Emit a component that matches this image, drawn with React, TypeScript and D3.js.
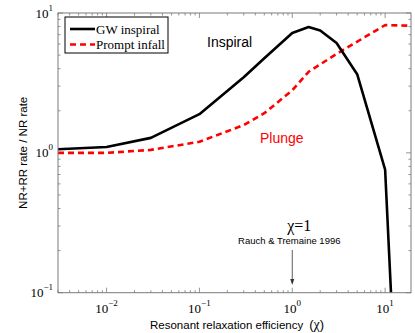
import React from "react";
import * as d3 from "d3";

// values
const chiGW = [0.003, 0.01, 0.03, 0.1, 0.3, 0.5, 1, 1.5, 2, 3, 5, 10, 12];
const rateGW = [1.06, 1.1, 1.28, 1.89, 3.47, 4.75, 7.2, 7.95, 7.5, 6.1, 3.65, 0.76, 0.06];
const chiPlunge = [0.003, 0.01, 0.03, 0.1, 0.3, 0.5, 1, 1.5, 3, 10, 20];
const ratePlunge = [1.0, 1.0, 1.05, 1.2, 1.58, 1.92, 2.8, 3.8, 5.1, 8.2, 8.1];
const xDecades = [-2, -1, 0, 1];
const yDecades = [-1, 0, 1];

const W = 415;
const H = 333;
const m = { left: 58, right: 411, top: 13, bottom: 292.7 };

const serif = "'Liberation Serif', 'Times New Roman', serif";
const sans = "'Liberation Sans', Arial, Helvetica, sans-serif";
const frame = "#7a7a7a";

const expLabel = (p: number) => (p < 0 ? "\u2212" + Math.abs(p) : String(p));

export default function App() {
  const x = d3.scaleLog().domain([0.003, 19]).range([m.left, m.right]);
  const y = d3.scaleLog().domain([0.1, 10]).range([m.bottom, m.top]);

  const line = d3
    .line<[number, number]>()
    .x((d) => x(d[0]))
    .y((d) => y(d[1]));

  const gw = line(chiGW.map((c, i) => [c, rateGW[i]] as [number, number])) || "";
  const plunge = line(chiPlunge.map((c, i) => [c, ratePlunge[i]] as [number, number])) || "";

  const xTicks = x.ticks();
  const yTicks = y.ticks();
  const isMajor = (v: number) => Math.abs(Math.log10(v) - Math.round(Math.log10(v))) < 1e-6;

  const arrowX = x(1);

  return (
    <svg width={W} height={H} style={{ position: "absolute", left: 0, top: 0, background: "#fff" }}>
      <defs>
        <clipPath id="plot">
          <rect x={m.left} y={m.top} width={m.right - m.left} height={m.bottom - m.top} />
        </clipPath>
      </defs>

      {/* ticks, inward on all four sides */}
      <g stroke={frame} strokeWidth={0.8}>
        {xTicks.map((t, i) => {
          const len = isMajor(t) ? 5 : 2.5;
          return (
            <g key={"x" + i}>
              <line x1={x(t)} x2={x(t)} y1={m.bottom} y2={m.bottom - len} />
              <line x1={x(t)} x2={x(t)} y1={m.top} y2={m.top + len} />
            </g>
          );
        })}
        {yTicks.map((t, i) => {
          const len = isMajor(t) ? 5 : 2.5;
          return (
            <g key={"y" + i}>
              <line x1={m.left} x2={m.left + len} y1={y(t)} y2={y(t)} />
              <line x1={m.right} x2={m.right - len} y1={y(t)} y2={y(t)} />
            </g>
          );
        })}
      </g>

      {/* data */}
      <g clipPath="url(#plot)" fill="none" strokeLinejoin="round">
        <path d={plunge} stroke="#ff0000" strokeWidth={2.6} strokeDasharray="6,4" />
        <path d={gw} stroke="#000" strokeWidth={2.6} />
      </g>

      <rect
        x={m.left}
        y={m.top}
        width={m.right - m.left}
        height={m.bottom - m.top}
        fill="none"
        stroke={frame}
        strokeWidth={1}
      />

      {/* tick labels */}
      <g fontFamily={serif} fill="#000">
        {xDecades.map((p) => (
          <text key={"xl" + p} x={x(Math.pow(10, p))} y={313} fontSize={13} textAnchor="middle">
            10
            <tspan dy={-7} fontSize={9}>
              {expLabel(p)}
            </tspan>
          </text>
        ))}
        {yDecades.map((p) => (
          <text key={"yl" + p} x={53} y={y(Math.pow(10, p)) + 4.5} fontSize={13} textAnchor="end">
            10
            <tspan dy={-7} fontSize={9}>
              {expLabel(p)}
            </tspan>
          </text>
        ))}
      </g>

      {/* axis titles */}
      <text x={150} y={329} fontFamily={sans} fontSize={11.5} fill="#000">
        Resonant relaxation efficiency
        <tspan dx={6} fontSize={13}>
          (
        </tspan>
        <tspan fontFamily={serif} fontSize={14}>χ</tspan>
        <tspan fontSize={13}>)</tspan>
      </text>
      <text
        transform={`translate(27,${y(1)}) rotate(-90)`}
        textAnchor="middle"
        fontFamily={sans}
        fontSize={11.5}
        fill="#000"
      >
        NR+RR rate / NR rate
      </text>

      {/* annotations */}
      <text x={207} y={47} fontFamily={sans} fontSize={14} fill="#000">
        Inspiral
      </text>
      <text x={260} y={143} fontFamily={sans} fontSize={14} fill="#ff0000">
        Plunge
      </text>
      <text x={arrowX + 7} y={231} fontFamily={serif} fontSize={16} textAnchor="middle" fill="#000">
        χ=1
      </text>
      <text x={arrowX - 3} y={244} fontFamily={sans} fontSize={9.5} textAnchor="middle" fill="#000">
        Rauch &amp; Tremaine 1996
      </text>
      <line x1={arrowX} x2={arrowX} y1={250} y2={283} stroke="#333" strokeWidth={0.8} />
      <path d={`M${arrowX - 2},${279} L${arrowX + 2},${279} L${arrowX},${285} Z`} fill="#333" />

      {/* legend */}
      <g>
        <rect x={65} y={17} width={103} height={36} fill="#fff" stroke="#000" strokeWidth={1} />
        <line x1={70} x2={95} y1={29} y2={29} stroke="#000" strokeWidth={2.6} />
        <line x1={70} x2={95} y1={44.5} y2={44.5} stroke="#ff0000" strokeWidth={2.6} strokeDasharray="6,4" />
        <text x={96} y={33.5} fontFamily={serif} fontSize={13} fill="#000">
          GW inspiral
        </text>
        <text x={96} y={49} fontFamily={serif} fontSize={13} fill="#000">
          Prompt infall
        </text>
      </g>
    </svg>
  );
}
